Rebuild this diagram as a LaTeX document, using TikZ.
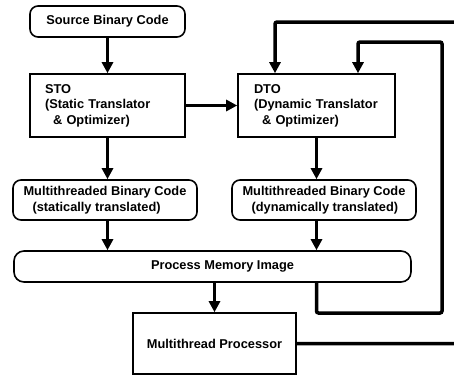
\documentclass[tikz,border=0pt]{standalone}
\usepackage{fontspec}
\setmainfont{Liberation Sans}
\usetikzlibrary{arrows.meta}
\tikzset{
    codebox/.style = {rectangle, rounded corners=8pt, draw=black, line width=1.6pt, align=left, font=\bfseries\fontsize{12.8}{15.5}\selectfont},
    memory/.style = {rectangle, rounded corners=10pt, draw=black, line width=1.6pt, text centered, font=\bfseries\fontsize{12.8}{15.5}\selectfont},
    process/.style = {rectangle, draw=black, line width=1.6pt, align=left, minimum height=63pt, font=\bfseries\fontsize{12.8}{15.5}\selectfont},
    arrow/.style = {line width=3.5pt, -{Triangle[length=11pt,width=11pt]}},
    feedback/.style = {arrow, rounded corners=2pt}
}
\begin{document}
\begin{tikzpicture}[x=1pt, y=-1pt]
\useasboundingbox (0,0) rectangle (454,375);
\clip (0,0) rectangle (454,375);

\node (src) [codebox, minimum width=155pt, minimum height=31pt] at (107.5,21.5) {Source Binary Code};
\node (sto) [process, text width=125pt, inner xsep=15pt] at (107.5,105.5) {STO\\(Static Translator\\\hspace*{8pt}\& Optimizer)};
\node (dto) [process, text width=125pt, inner xsep=16pt] at (316.5,105.5) {DTO\\(Dynamic Translator\\\hspace*{8pt}\& Optimizer)};
\node (stat) [codebox, minimum width=184pt, minimum height=40pt] at (105,200) {Multithreaded Binary Code\\\hspace*{9pt}(statically translated)};
\node (dyn) [codebox, minimum width=184pt, minimum height=40pt] at (324,200) {Multithreaded Binary Code\\\hspace*{9pt}(dynamically translated)};
\node (pmi) [memory, minimum width=397pt, minimum height=31pt] at (212.5,266.5) {\hspace*{20pt}Process Memory Image};
\node (proc) [process, minimum width=163pt, minimum height=61pt, align=center] at (214.5,343.5) {Multithread Processor};

\draw [arrow] (src) -- (sto);
\draw [arrow] (sto) -- (dto);
\draw [arrow] (sto.south) -- (sto.south |- stat.north);
\draw [arrow] (dto.south) -- (dto.south |- dyn.north);
\draw [arrow] (sto.south |- stat.south) -- (sto.south |- pmi.north);
\draw [arrow] (dto.south |- dyn.south) -- (dto.south |- pmi.north);
\draw [arrow] (proc.north |- pmi.south) -- (proc.north);

% feedback paths into the DTO
\draw [feedback] (dto.south |- pmi.south) |- (442,313) -- (442,42) -| ([xshift=41.5pt]dto.north);
\draw [feedback] (proc.east) -| (470,22) -| ([xshift=-41.5pt]dto.north);
\end{tikzpicture}
\end{document}
